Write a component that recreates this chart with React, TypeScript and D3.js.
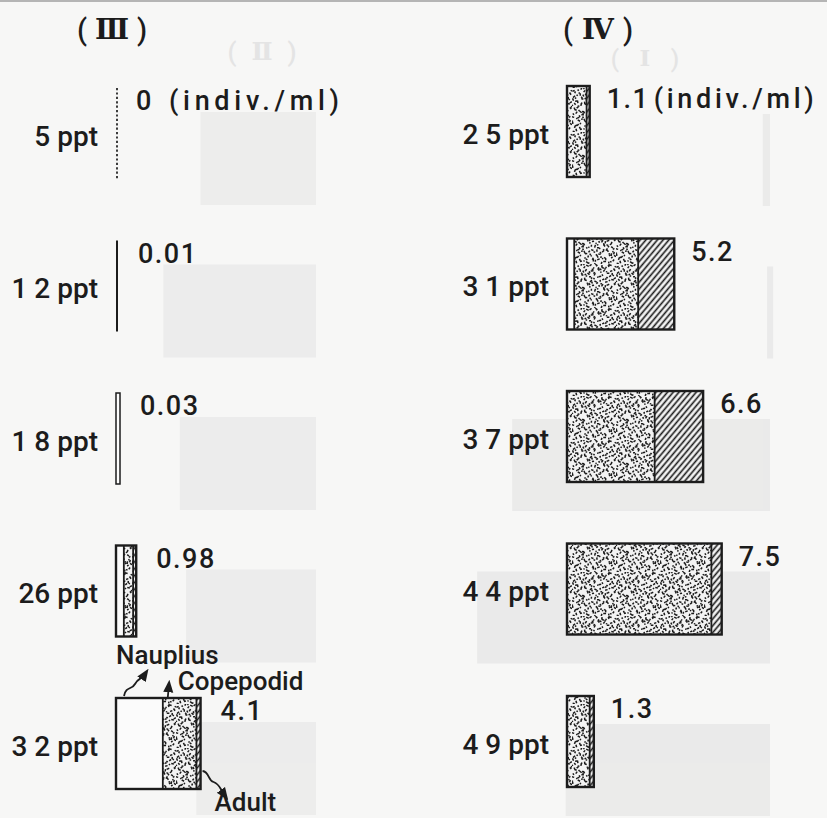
import React from "react";
import * as d3 from "d3";

// ---- data ----
const panelNumerals = ["Ⅲ", "Ⅳ"];
const stageNames = ["Nauplius", "Copepodid", "Adult"];
const unitLabel = "(indiv./ml)";

const salinityIII = ["5", "1 2", "1 8", "26", "3 2"];
const naupliusIII = [0, 0, 0, 0.38, 2.27];
const copepodidIII = [0, 0, 0, 0.45, 1.63];
const adultIII = [0, 0, 0, 0.15, 0.2];
const totalsIII = [0, 0.01, 0.03, 0.98, 4.1];
const totalLabelsIII = ["0", "0.01", "0.03", "0.98", "4.1"];

const salinityIV = ["2 5", "3 1", "3 7", "4 4", "4 9"];
const naupliusIV = [0, 0.35, 0, 0, 0];
const copepodidIV = [0.95, 3.1, 4.25, 7.0, 1.1];
const adultIV = [0.15, 1.75, 2.35, 0.5, 0.2];
const totalsIV = [1.1, 5.2, 6.6, 7.5, 1.3];
const totalLabelsIV = ["1.1", "5.2", "6.6", "7.5", "1.3"];

// show-through of the reverse page (panels II and I, mirrored)
const ghostTotalsII = [5.6, 7.4, 6.6, 6.3, 5.8];
const ghostTotalsI = [0.35, 0.14, 12.5, 14.2, 9.9];
const ghostNumerals = ["Ⅱ", "Ⅰ"];

// ---- layout ----
const W = 827;
const H = 818;
const BAR_H = 91;
const FONT = "Roboto, 'Noto Sans', sans-serif";
const FW = 500;
const FS = 27;
const INK = "#1c1c1c";

const x = d3.scaleLinear().domain([0, 8]).range([0, 165]);
const rowTop = d3.scaleLinear().domain([0, 4]).range([88, 698]);

function halton(i: number, b: number) {
  let f = 1,
    r = 0;
  while (i > 0) {
    f /= b;
    r += f * (i % b);
    i = Math.floor(i / b);
  }
  return r;
}

const TILE = 44;
const stippleDots = d3.range(1, 175).map((i) => ({
  cx: halton(i, 2) * TILE,
  cy: halton(i, 3) * TILE,
  a: halton(i, 5) * 180,
  l: 1.3 + halton(i, 7) * 1.6,
}));

type Panel = {
  x0: number;
  dy: number;
  salinity: string[];
  naup: number[];
  cope: number[];
  adult: number[];
  totals: number[];
  labels: string[];
  labelGap: number;
  unitOffset: number;
  unitLen: number;
};

const panels: Panel[] = [
  {
    x0: 116,
    dy: 0,
    salinity: salinityIII,
    naup: naupliusIII,
    cope: copepodidIII,
    adult: adultIII,
    totals: totalsIII,
    labels: totalLabelsIII,
    labelGap: 20,
    unitOffset: 33,
    unitLen: 170,
  },
  {
    x0: 567,
    dy: -2,
    salinity: salinityIV,
    naup: naupliusIV,
    cope: copepodidIV,
    adult: adultIV,
    totals: totalsIV,
    labels: totalLabelsIV,
    labelGap: 17,
    unitOffset: 47,
    unitLen: 160,
  },
];

const fills = ["#fbfbfb", "url(#stipple)", "url(#hatch)"];

function Row({ p, i }: { p: Panel; i: number }) {
  const top = rowTop(i) + p.dy;
  const total = p.totals[i];
  const segs = [p.naup[i], p.cope[i], p.adult[i]];
  let barW = x(total);
  let mark: React.ReactNode = null;
  if (total === 0) {
    mark = (
      <line x1={p.x0 + 1} x2={p.x0 + 1} y1={top} y2={top + BAR_H} stroke={INK} strokeWidth={1.7} strokeDasharray="2.2,2.2" />
    );
    barW = 0;
  } else if (total < 0.02) {
    mark = <line x1={p.x0 + 1} x2={p.x0 + 1} y1={top} y2={top + BAR_H} stroke={INK} strokeWidth={2} />;
    barW = 2;
  } else if (total < 0.05) {
    mark = <rect x={p.x0} y={top} width={4} height={BAR_H} fill="#fdfdfd" stroke={INK} strokeWidth={1.5} />;
    barW = 4;
  } else {
    let cum = 0;
    const rects: React.ReactNode[] = [];
    const dividers: React.ReactNode[] = [];
    segs.forEach((v, k) => {
      if (v <= 0) return;
      const xs = p.x0 + x(cum);
      const w = x(v);
      rects.push(<rect key={"r" + k} x={xs} y={top} width={w} height={BAR_H} fill={fills[k]} />);
      if (cum > 0)
        dividers.push(<line key={"d" + k} x1={xs} x2={xs} y1={top} y2={top + BAR_H} stroke={INK} strokeWidth={1.8} />);
      cum += v;
    });
    mark = (
      <g>
        {rects}
        {dividers}
        <rect x={p.x0} y={top} width={x(cum)} height={BAR_H} fill="none" stroke={INK} strokeWidth={2.4} />
      </g>
    );
    barW = x(cum);
  }
  const lx = p.x0 + barW + p.labelGap;
  const ly = top + 22;
  return (
    <g>
      {mark}
      <text x={p.x0 - 18} y={top + BAR_H / 2 + 12} textAnchor="end" fontSize={28} fontWeight={FW} fontFamily={FONT} fill={INK}>
        {p.salinity[i]} ppt
      </text>
      <text x={lx} y={ly} fontSize={FS} fontWeight={FW} fontFamily={FONT} fill={INK} letterSpacing={1.5}>
        {p.labels[i]}
      </text>
      {i === 0 ? (
        <text
          x={lx + p.unitOffset}
          y={ly}
          fontSize={FS}
          fontWeight={FW}
          fontFamily={FONT}
          fill={INK}
          textLength={p.unitLen}
          lengthAdjust="spacing"
        >
          {unitLabel}
        </text>
      ) : null}
    </g>
  );
}

function Title({ cx, y, numeral, fill, size }: { cx: number; y: number; numeral: string; fill: string; size: number }) {
  return (
    <g fill={fill}>
      <text x={cx - 30} y={y} textAnchor="middle" fontSize={size} fontFamily={FONT} fontWeight={FW}>
        (
      </text>
      <text x={cx} y={y - 1} textAnchor="middle" fontSize={size - 1} fontFamily="'DejaVu Serif', serif" fontWeight={700}>
        {numeral}
      </text>
      <text x={cx + 30} y={y} textAnchor="middle" fontSize={size} fontFamily={FONT} fontWeight={FW}>
        )
      </text>
    </g>
  );
}

export default function App() {
  const pIII = panels[0];
  const last = 4;
  const top = rowTop(last) + pIII.dy;
  const bottom = top + BAR_H;
  const nx = pIII.x0 + x(pIII.naup[last]);
  const right = pIII.x0 + x(pIII.naup[last] + pIII.cope[last] + pIII.adult[last]);

  return (
    <svg
      width={W}
      height={H}
      viewBox={`0 0 ${W} ${H}`}
      style={{ position: "absolute", left: 0, top: 0, background: "#f7f7f6" }}
    >
      <defs>
        <pattern id="stipple" width={TILE} height={TILE} patternUnits="userSpaceOnUse">
          <rect width={TILE} height={TILE} fill="#f3f3f3" />
          {stippleDots.map((d, k) => (
            <rect
              key={k}
              x={d.cx - d.l / 2}
              y={d.cy - 0.75}
              width={d.l}
              height={1.5}
              fill="#1a1a1a"
              transform={`rotate(${d.a} ${d.cx} ${d.cy})`}
            />
          ))}
        </pattern>
        <pattern id="hatch" width={4.4} height={4.4} patternUnits="userSpaceOnUse" patternTransform="rotate(40)">
          <rect width={4.4} height={4.4} fill="#f4f4f4" />
          <line x1={2.2} y1={0} x2={2.2} y2={4.4} stroke="#1a1a1a" strokeWidth={1.6} />
        </pattern>
        <marker id="ah" viewBox="0 0 10 10" refX={5} refY={5} markerWidth={7} markerHeight={7} orient="auto">
          <path d="M0,1 L10,5 L0,9 Z" fill={INK} />
        </marker>
      </defs>

      {/* top scan edge */}
      <line x1={0} x2={W} y1={1} y2={1} stroke="#b5b5b5" strokeWidth={2} />

      {/* show-through ghost of reverse page */}
      <g opacity={0.45}>
        {ghostTotalsII.map((v, i) => (
          <rect key={"g2" + i} x={316 - x(v)} y={rowTop(i) + 24} width={x(v)} height={93} fill="#e0e0e0" />
        ))}
        {ghostTotalsI.map((v, i) => (
          <rect key={"g1" + i} x={770 - x(v)} y={rowTop(i) + 26} width={Math.max(x(v), 6)} height={92} fill="#dcdcdc" />
        ))}
      </g>
      <Title cx={262} y={61} numeral={ghostNumerals[0]} fill="#e4e4e4" size={26} />
      <Title cx={645} y={67} numeral={ghostNumerals[1]} fill="#e4e4e4" size={24} />

      {/* panel titles */}
      <Title cx={112} y={40} numeral={panelNumerals[0]} fill={INK} size={29} />
      <Title cx={598} y={40} numeral={panelNumerals[1]} fill={INK} size={29} />

      {panels.map((p, pi) => (
        <g key={pi}>
          {p.totals.map((_, i) => (
            <Row key={i} p={p} i={i} />
          ))}
        </g>
      ))}

      {/* stage annotations */}
      <text x={pIII.x0} y={top - 34} fontSize={26} fontWeight={FW} fontFamily={FONT} fill={INK}>
        {stageNames[0]}
      </text>
      <path
        d={`M${pIII.x0 + 8},${top - 2} C${pIII.x0 + 10},${top - 12} ${pIII.x0 + 16},${top - 8} ${pIII.x0 + 19},${top - 14} S${pIII.x0 + 25},${top - 18} ${pIII.x0 + 29},${top - 24}`}
        fill="none"
        stroke={INK}
        strokeWidth={1.8}
        markerEnd="url(#ah)"
      />
      <text x={nx + 15} y={top - 8} fontSize={26} fontWeight={FW} fontFamily={FONT} fill={INK}>
        {stageNames[1]}
      </text>
      <path d={`M${nx + 5},${top - 1} L${nx + 6},${top - 12}`} fill="none" stroke={INK} strokeWidth={1.8} markerEnd="url(#ah)" />
      <path
        d={`M${right + 2},${bottom - 18} C${right + 9},${bottom - 17} ${right + 7},${bottom - 9} ${right + 13},${bottom - 7} S${right + 19},${bottom - 1} ${right + 24},${bottom + 6}`}
        fill="none"
        stroke={INK}
        strokeWidth={1.8}
        markerEnd="url(#ah)"
      />
      <text x={right + 14} y={bottom + 22} fontSize={26} fontWeight={FW} fontFamily={FONT} fill={INK}>
        {stageNames[2]}
      </text>
    </svg>
  );
}
